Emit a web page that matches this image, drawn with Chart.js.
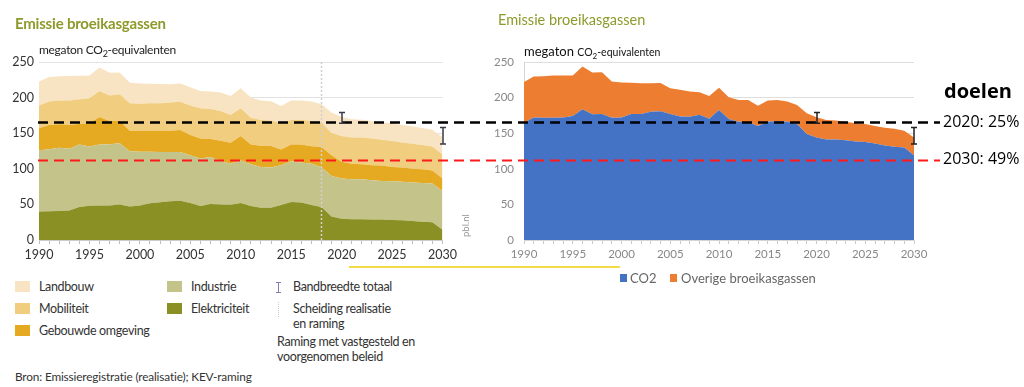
<!DOCTYPE html>
<html><head><meta charset="utf-8">
<script src="https://cdn.jsdelivr.net/npm/chart.js@4.4.1/dist/chart.umd.min.js"></script>
<style>
html,body{margin:0;padding:0;background:#fff;width:1024px;height:387px;overflow:hidden;font-family:Lato,"Open Sans",sans-serif;color:#333;}
.t{position:absolute;white-space:nowrap;line-height:16px;}
.lg{font-size:12.5px;letter-spacing:-0.35px;}
.sw{position:absolute;width:15px;height:11px;}
canvas{position:absolute;top:0;}
</style></head><body>
<canvas id="cL" width="460" height="275" style="left:0"></canvas>
<canvas id="cR" width="564" height="275" style="left:460px"></canvas>

<div class="t" style="left:15px;top:15px;font-size:15px;font-weight:700;color:#8e9a2b;letter-spacing:-0.2px;">Emissie broeikasgassen</div>
<div class="t" style="left:39px;top:42px;font-size:12px;color:#222;letter-spacing:-0.3px;">megaton CO<sub style="font-size:9px;line-height:0">2</sub>-equivalenten</div>
<div class="t" style="left:498px;top:12px;font-size:14.5px;color:#8e9a2b;">Emissie broeikasgassen</div>
<div class="t" style="left:524px;top:43px;font-size:13px;color:#111;">megaton <span style="font-size:10.5px">CO<sub style="font-size:8px;line-height:0">2</sub>-equivalenten</span></div>
<div class="t" style="left:458px;top:237px;font-size:9.5px;color:#999;transform:rotate(-90deg);transform-origin:left top;">pbl.nl</div>

<div style="position:absolute;left:349px;top:266px;width:271px;height:1.5px;background:#f3dc4a;"></div>

<div class="sw" style="left:15px;top:281px;background:#f8e4c2"></div>
<div class="t lg" style="left:39px;top:279px;">Landbouw</div>
<div class="sw" style="left:15px;top:303px;background:#f1cd80"></div>
<div class="t lg" style="left:39px;top:301px;">Mobiliteit</div>
<div class="sw" style="left:15px;top:325px;background:#e6aa22"></div>
<div class="t lg" style="left:39px;top:323px;">Gebouwde omgeving</div>
<div class="sw" style="left:167px;top:281px;background:#c4c48a"></div>
<div class="t lg" style="left:191px;top:279px;">Industrie</div>
<div class="sw" style="left:167px;top:303px;background:#8b9024"></div>
<div class="t lg" style="left:191px;top:301px;">Elektriciteit</div>
<div style="position:absolute;left:276px;top:282px;width:5px;height:1px;background:#8a7ab0"></div>
<div style="position:absolute;left:278px;top:282px;width:1px;height:11px;background:#8a7ab0"></div>
<div style="position:absolute;left:276px;top:292px;width:5px;height:1px;background:#8a7ab0"></div>
<div class="t lg" style="left:293px;top:279px;">Bandbreedte totaal</div>
<div style="position:absolute;left:278px;top:302px;width:0;height:15px;border-left:1px dotted #ccc"></div>
<div class="t lg" style="left:293px;top:301px;">Scheiding realisatie</div>
<div class="t lg" style="left:293px;top:316px;">en raming</div>
<div class="t lg" style="left:277px;top:334px;">Raming met vastgesteld en</div>
<div class="t lg" style="left:277px;top:349px;">voorgenomen beleid</div>
<div class="t" style="left:15px;top:369px;font-size:11.8px;letter-spacing:-0.15px;">Bron: Emissieregistratie (realisatie); KEV-raming</div>

<div style="position:absolute;left:620px;top:274px;width:7px;height:8px;background:#4472c4"></div>
<div class="t" style="left:630px;top:270px;font-size:13px;color:#666;">CO2</div>
<div style="position:absolute;left:670px;top:274px;width:7px;height:8px;background:#ed7d31"></div>
<div class="t" style="left:681px;top:270px;font-size:13px;color:#666;">Overige broeikasgassen</div>

<script>
// ---------- data ----------
const years = [1990,1991,1992,1993,1994,1995,1996,1997,1998,1999,2000,2001,2002,2003,2004,2005,2006,2007,2008,2009,2010,2011,2012,2013,2014,2015,2016,2017,2018,2019,2020,2021,2022,2023,2024,2025,2026,2027,2028,2029,2030];
const elektriciteit = [40.2,40.5,40.8,41.6,46.3,48,48.6,48.6,50,47,48.6,51.6,53,54.3,55.3,52,47.7,50.5,50,49.5,52,47.7,45.4,45.4,49.3,53.3,52.5,49,46.3,33.1,29.9,29,29,28.7,28.7,28.2,27.7,26.7,25.8,24.9,14.4];
const industrie = [86.0,87.1,88.7,86.4,87.9,83.4,85.4,86.0,86.0,77.8,75.4,72.4,70.7,69.2,68.4,67.2,66.8,65.9,60.7,58.0,59.7,58.8,57.3,56.4,55.7,57.4,56.4,58.0,56.0,56.9,56.4,56.4,56.4,55.3,54.3,54.4,54.1,54.1,54.2,54.6,54.4];
const gebouwdeOmgeving = [30.6,33.9,32.9,34.0,28.8,32.5,38.8,32.4,31.0,28.7,29.0,29.0,29.3,30.0,30.7,28.2,28.2,25.3,28.7,29.0,34.3,27.7,29.6,30.2,22.2,23.5,25.3,24.5,28.2,29.2,23.5,21.6,21.1,21.0,21.5,20.1,20.0,19.1,19.3,18.0,17.5];
const mobiliteit = [32.0,32.9,33.4,33.8,34.7,35.1,36.6,35.9,37.8,38.5,38.5,39.0,39.0,39.5,39.6,41.4,42.3,42.3,41.8,39.1,39.0,37.6,36.2,36.0,36.7,34.3,34.3,36.0,34.8,31.0,36.2,37.1,37.5,37.7,36.3,36.2,35.2,35.2,34.0,33.9,33.7];
const landbouw = [33.7,34.6,34.2,34.5,33.1,32.2,32.9,31.9,30.5,29.0,28.2,27.5,27.0,25.8,25.8,25.8,24.4,24.6,25.8,26.8,28.2,28.2,27.3,27.0,24.4,27.3,27.3,27.0,25.4,28.7,26.8,25.4,24.8,24.4,24.5,25.0,24.5,24.5,24.0,23.5,24.6];

const co2 = [164.7,172,171.6,171.6,172,174,183.6,176.6,177,171.6,172,177,177,180,181,177,173.5,173,176,170.4,182.6,170,166,165.4,160,166,167,166,163,148.8,144,141.3,141.3,140,138.5,137.5,135.6,132.8,131,130,119];
const overige = [57.3,57.6,58.4,59.4,59.0,57.0,60.1,58.7,58.6,51.0,49.2,44.0,43.3,40.0,39.5,36.0,37.4,35.5,31.5,32.0,31.4,30.5,30.7,31.3,28.7,30.0,29.7,28.4,26.7,29.2,28.3,27.2,26.7,26.0,25.4,25.5,24.4,24.9,25.3,23.5,25.0];

const splitYear = 2018;
const bandYears = [2020, 2030];
const bandLow = [164, 135];
const bandHigh = [179, 158];

const targetValues = [165.4, 112.5];
const targetLabels = ['2020: 25%', '2030: 49%'];
const targetColors = ['#000000', '#ff1a1a'];
const targetTitle = 'doelen';

const yTicks = [0, 50, 100, 150, 200, 250];

// ---------- helpers ----------
function idx(yr){ return years.indexOf(yr); }
function drawTargets(chart, x0, x1){
  const {ctx, scales:{y}} = chart;
  ctx.save();
  targetValues.forEach((v,i)=>{
    const py = Math.round(y.getPixelForValue(v)) + 0.5;
    ctx.beginPath();
    ctx.setLineDash([10,6]);
    ctx.lineWidth = i===0 ? 2.5 : 2.2;
    ctx.strokeStyle = targetColors[i];
    ctx.moveTo(x0, py); ctx.lineTo(x1, py); ctx.stroke();
  });
  ctx.restore();
}
function drawBands(chart, color){
  const {ctx, scales:{x,y}} = chart;
  ctx.save();
  ctx.strokeStyle = color; ctx.lineWidth = 1.5; ctx.setLineDash([]);
  bandYears.forEach((yr,i)=>{
    const px = Math.round(x.getPixelForValue(idx(yr)));
    const y1 = y.getPixelForValue(bandLow[i]), y2 = y.getPixelForValue(bandHigh[i]);
    ctx.beginPath();
    ctx.moveTo(px, y1); ctx.lineTo(px, y2);
    ctx.moveTo(px-3, y1); ctx.lineTo(px+3, y1);
    ctx.moveTo(px-3, y2); ctx.lineTo(px+3, y2);
    ctx.stroke();
  });
  ctx.restore();
}

const LEFT_ABS = 38, RIGHT_CANVAS = 460, TARGET_END = 940;

const overlayL = {
  id:'overlayL',
  afterDatasetsDraw(chart){
    const {ctx, scales:{x,y}, chartArea:a} = chart;
    const px = Math.round(x.getPixelForValue(idx(splitYear))) + 0.5;
    ctx.save();
    ctx.strokeStyle = '#d0d0d0'; ctx.lineWidth = 1.5; ctx.setLineDash([2,2]);
    ctx.beginPath(); ctx.moveTo(px, a.top); ctx.lineTo(px, a.bottom); ctx.stroke();
    ctx.restore();
    drawTargets(chart, LEFT_ABS, chart.width);
    drawBands(chart, '#3a3a48');
  }
};
const overlayR = {
  id:'overlayR',
  afterDatasetsDraw(chart){
    const {ctx, scales:{y}} = chart;
    drawTargets(chart, LEFT_ABS - RIGHT_CANVAS, TARGET_END - RIGHT_CANVAS);
    drawBands(chart, '#222');
    ctx.save();
    ctx.fillStyle = '#000';
    ctx.textBaseline = 'middle';
    ctx.font = '700 20px "Open Sans", sans-serif';
    ctx.fillText(targetTitle, 944 - RIGHT_CANVAS, 92);
    ctx.font = '16px "Open Sans", sans-serif';
    targetValues.forEach((v,i)=>{
      ctx.fillText(targetLabels[i], 943 - RIGHT_CANVAS, y.getPixelForValue(v));
    });
    ctx.restore();
  }
};

function area(label, data, color, fill){
  return {label, data, backgroundColor:color, borderColor:color, borderWidth:0, pointRadius:0, fill, tension:0};
}

new Chart(document.getElementById('cL'), {
  type:'line',
  data:{
    labels: years,
    datasets:[
      area('Elektriciteit', elektriciteit, '#8b9024', 'origin'),
      area('Industrie', industrie, '#c4c48a', '-1'),
      area('Gebouwde omgeving', gebouwdeOmgeving, '#e6aa22', '-1'),
      area('Mobiliteit', mobiliteit, '#f1cd80', '-1'),
      area('Landbouw', landbouw, '#f8e4c2', '-1')
    ]
  },
  options:{
    responsive:false, animation:false,
    layout:{padding:{top:62, left:0, right:4, bottom:0}},
    plugins:{legend:{display:false}, tooltip:{enabled:false}},
    scales:{
      x:{
        grid:{drawOnChartArea:false, tickLength:4, color:'#bbb'},
        border:{color:'#ccc'},
        ticks:{autoSkip:false, maxRotation:0, padding:3, color:'#333', font:{family:'Lato', size:12.5},
          callback:(v,i)=> years[i] % 5 === 0 ? String(years[i]) : ''},
        afterFit:(s)=>{ s.height = 35; }
      },
      y:{
        stacked:true, min:0, max:250,
        afterBuildTicks:(s)=>{ s.ticks = yTicks.map(v=>({value:v})); },
        grid:{color:'#e2e2e2', drawTicks:false},
        border:{display:false},
        ticks:{padding:5, color:'#333', font:{family:'Lato', size:12.5}},
        afterFit:(s)=>{ s.width = 39; }
      }
    }
  },
  plugins:[overlayL]
});

new Chart(document.getElementById('cR'), {
  type:'line',
  data:{
    labels: years,
    datasets:[
      area('CO2', co2, '#4472c4', 'origin'),
      area('Overige broeikasgassen', overige, '#ed7d31', '-1')
    ]
  },
  options:{
    responsive:false, animation:false,
    layout:{padding:{top:62, left:0, right:110, bottom:0}},
    plugins:{legend:{display:false}, tooltip:{enabled:false}},
    scales:{
      x:{
        grid:{drawOnChartArea:false, tickLength:4, color:'#ccc'},
        border:{color:'#d5d5d5'},
        ticks:{autoSkip:false, maxRotation:0, padding:3, color:'#888', font:{family:'Lato', size:11.5},
          callback:(v,i)=> years[i] % 5 === 0 ? String(years[i]) : ''},
        afterFit:(s)=>{ s.height = 35; }
      },
      y:{
        stacked:true, min:0, max:250,
        afterBuildTicks:(s)=>{ s.ticks = yTicks.map(v=>({value:v})); },
        grid:{color:'#dedede', drawTicks:false},
        border:{display:true, color:'#d5d5d5'},
        ticks:{padding:10, color:'#888', font:{family:'Lato', size:11.5}},
        afterFit:(s)=>{ s.width = 64; }
      }
    }
  },
  plugins:[overlayR]
});
</script>
</body></html>
